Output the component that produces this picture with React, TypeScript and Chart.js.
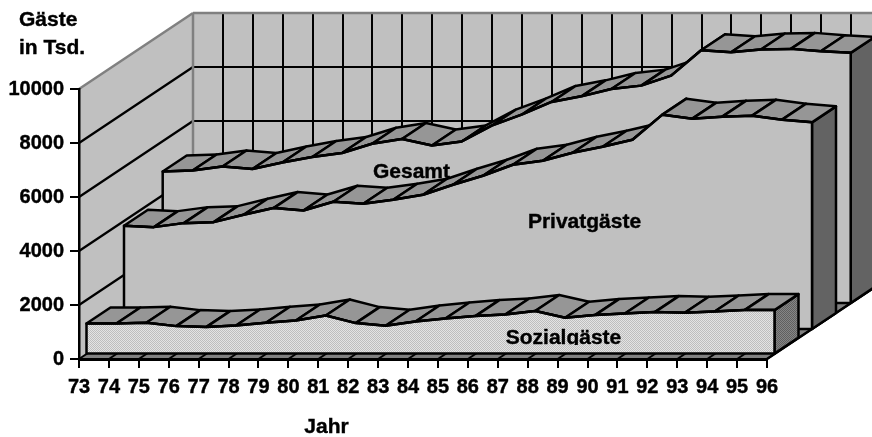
import React, { useEffect, useRef } from "react";
import { Chart, registerables } from "chart.js";

Chart.register(...registerables);

const years = ["73","74","75","76","77","78","79","80","81","82","83","84","85","86","87","88","89","90","91","92","93","94","95","96"];
const sozial = [1113,1113,1138,1014,977,1039,1138,1224,1410,1126,1026,1187,1298,1385,1447,1571,1323,1422,1484,1533,1508,1558,1607,1607];
const privat = [3821,3773,3921,3958,4229,4478,4389,4712,4638,4786,4971,5342,5676,6084,6233,6530,6752,7012,7939,7791,7865,7902,7754,7654];
const gesamt = [4871,4908,5057,4960,5205,5405,5554,5899,6073,5832,5984,6567,6975,7446,7654,7928,8051,8422,9360,9286,9386,9412,9323,9264];
const seriesNames = ["Sozialgäste", "Privatgäste", "Gesamt"];
const yTicks = [0, 2000, 4000, 6000, 8000, 10000];

const FONT = 'bold 21px "Liberation Sans", Arial, sans-serif';
const DEPTH_X = 114;
const DEPTH_Y = 76;
const LAYERS = [
  { dx: 7.5, dy: -5.5 },
  { dx: 45, dy: -30 },
  { dx: 83.7, dy: -56 },
];
const BAND_X = 24;
const BAND_Y = 16;
const LW = 2.5;

function dither(a: string, b: string) {
  const c = document.createElement("canvas");
  c.width = 2;
  c.height = 2;
  const x = c.getContext("2d")!;
  x.fillStyle = a;
  x.fillRect(0, 0, 2, 2);
  x.fillStyle = b;
  x.fillRect(0, 0, 1, 1);
  x.fillRect(1, 1, 1, 1);
  return x.createPattern(c, "repeat")!;
}

function poly(ctx: CanvasRenderingContext2D, pts: number[][], fill?: any, stroke?: string, lw = LW) {
  ctx.beginPath();
  pts.forEach((p, i) => (i ? ctx.lineTo(p[0], p[1]) : ctx.moveTo(p[0], p[1])));
  ctx.closePath();
  if (fill) {
    ctx.fillStyle = fill;
    ctx.fill();
  }
  if (stroke) {
    ctx.strokeStyle = stroke;
    ctx.lineWidth = lw;
    ctx.stroke();
  }
}

function seg(ctx: CanvasRenderingContext2D, x1: number, y1: number, x2: number, y2: number, color = "#000", lw = 2) {
  ctx.beginPath();
  ctx.moveTo(x1, y1);
  ctx.lineTo(x2, y2);
  ctx.strokeStyle = color;
  ctx.lineWidth = lw;
  ctx.stroke();
}

function label(ctx: CanvasRenderingContext2D, text: string, x: number, y: number, align: CanvasTextAlign = "center") {
  ctx.font = FONT;
  ctx.fillStyle = "#000";
  ctx.strokeStyle = "#000";
  ctx.lineWidth = 0.4;
  ctx.textAlign = align;
  ctx.textBaseline = "alphabetic";
  ctx.fillText(text, x, y);
  ctx.strokeText(text, x, y);
}

const scene3d = {
  id: "scene3d",
  beforeDraw(chart: any) {
    const { ctx, scales } = chart;
    const xs = scales.x;
    const ys = scales.y;
    const left = xs.left;
    const right = xs.right;
    const y0 = ys.getPixelForValue(0);
    const yMax = ys.getPixelForValue(10000);
    ctx.save();
    ctx.lineJoin = "round";
    // back wall
    poly(ctx, [[left + DEPTH_X, yMax - DEPTH_Y], [right + DEPTH_X, yMax - DEPTH_Y], [right + DEPTH_X, y0 - DEPTH_Y], [left + DEPTH_X, y0 - DEPTH_Y]], "#C0C0C0");
    // side wall
    poly(ctx, [[left, yMax], [left + DEPTH_X, yMax - DEPTH_Y], [left + DEPTH_X, y0 - DEPTH_Y], [left, y0]], "#C0C0C0");
    // grid lines on the walls
    years.forEach((_, i) => {
      if (i === 0) return;
      const x = Math.round(xs.getPixelForTick(i) + DEPTH_X);
      seg(ctx, x, yMax - DEPTH_Y, x, y0 - DEPTH_Y);
    });
    yTicks.forEach((v) => {
      if (v === 10000 || v === 0) return;
      const y = ys.getPixelForValue(v);
      seg(ctx, left, y, left + DEPTH_X, y - DEPTH_Y, "#000", 2.2);
      const yy = Math.round(y - DEPTH_Y);
      seg(ctx, left + DEPTH_X, yy, right + DEPTH_X, yy);
    });
    // wall edges
    seg(ctx, left, yMax, left + DEPTH_X, yMax - DEPTH_Y, "#808080", 2.5);
    seg(ctx, left + DEPTH_X, yMax - DEPTH_Y, right + DEPTH_X, yMax - DEPTH_Y, "#808080", 2.5);
    seg(ctx, left + DEPTH_X, yMax - DEPTH_Y, left + DEPTH_X, y0 - DEPTH_Y, "#808080", 2.5);
    // floor
    poly(ctx, [[left, y0], [right, y0], [right + DEPTH_X, y0 - DEPTH_Y], [left + DEPTH_X, y0 - DEPTH_Y]], "#808080");
    years.forEach((_, i) => {
      const x = xs.getPixelForTick(i);
      seg(ctx, x, y0, x + DEPTH_X, y0 - DEPTH_Y);
    });
    seg(ctx, right, y0, right + DEPTH_X, y0 - DEPTH_Y, "#000", 2.5);
    ctx.restore();
  },
  beforeDatasetDraw(chart: any, args: any) {
    const { ctx, scales } = chart;
    const idx = args.index;
    const { dx, dy } = LAYERS[idx];
    const pts = args.meta.data.map((p: any) => [p.x + dx, p.y + dy]);
    const base = scales.y.getPixelForValue(0) + dy;
    const first = pts[0];
    const last = pts[pts.length - 1];
    const faceFill = idx === 0 ? dither("#E4E4E4", "#BEBEBE") : "#C0C0C0";
    const sideFill = idx === 0 ? dither("#868686", "#606060") : "#636363";
    ctx.save();
    ctx.lineJoin = "round";
    // right side
    poly(ctx, [[last[0], last[1]], [last[0] + BAND_X, last[1] - BAND_Y], [last[0] + BAND_X, base - BAND_Y], [last[0], base]], sideFill, "#000");
    // top band, one quad per year
    for (let i = 0; i < pts.length - 1; i++) {
      const a = pts[i];
      const b = pts[i + 1];
      poly(ctx, [a, b, [b[0] + BAND_X, b[1] - BAND_Y], [a[0] + BAND_X, a[1] - BAND_Y]], "#969696", "#000");
    }
    // front face
    poly(ctx, [...pts, [last[0], base], [first[0], base]], faceFill, "#000");
    ctx.translate(dx, dy);
  },
  afterDatasetDraw(chart: any, args: any) {
    const { ctx } = chart;
    ctx.restore();
    const idx = args.index;
    if (idx === 2) label(ctx, seriesNames[2], 411.5, 178);
    if (idx === 1) label(ctx, seriesNames[1], 584.5, 228);
    if (idx === 0) {
      ctx.save();
      ctx.beginPath();
      ctx.rect(0, 300, 872, 45);
      ctx.clip();
      label(ctx, seriesNames[0], 563.5, 344);
      ctx.restore();
    }
  },
  afterDraw(chart: any) {
    const { ctx } = chart;
    label(ctx, "Gäste", 19, 26, "left");
    label(ctx, "in Tsd.", 19, 54, "left");
    label(ctx, "Jahr", 326.5, 433);
  },
};

export default function App() {
  const ref = useRef<HTMLCanvasElement>(null);
  useEffect(() => {
    const line = { borderColor: "#000", borderWidth: LW, pointRadius: 0, fill: false, tension: 0, clip: false as any, borderJoinStyle: "round" as const };
    const tickFont = { family: '"Liberation Sans", Arial, sans-serif', size: 20, weight: "bold" as const };
    const chart = new Chart(ref.current!, {
      type: "line",
      data: {
        labels: years,
        datasets: [
          { label: seriesNames[0], data: sozial, ...line },
          { label: seriesNames[1], data: privat, ...line },
          { label: seriesNames[2], data: gesamt, ...line },
        ],
      },
      options: {
        animation: false,
        responsive: false,
        events: [],
        layout: { padding: { left: 0, right: 105, top: 89, bottom: 0 } },
        plugins: { legend: { display: false }, tooltip: { enabled: false }, title: { display: false } },
        scales: {
          x: {
            type: "category",
            offset: false,
            afterFit: (s: any) => { s.height = 78; },
            grid: { drawOnChartArea: false, drawTicks: true, tickLength: 9, tickColor: "#000", tickWidth: 2, color: "#000", lineWidth: 2 },
            border: { color: "#000", width: 3 },
            ticks: { color: "#000", font: tickFont, maxRotation: 0, minRotation: 0, autoSkip: false, padding: 7, textStrokeColor: "#000", textStrokeWidth: 0.4 },
          },
          y: {
            type: "linear",
            min: 0,
            max: 10000,
            afterFit: (s: any) => { s.width = 79; },
            afterBuildTicks: (s: any) => { s.ticks = yTicks.map((value) => ({ value })); },
            grid: { drawOnChartArea: false, drawTicks: true, tickLength: 9, tickColor: "#000", tickWidth: 2, color: "#000", lineWidth: 2 },
            border: { color: "#000", width: 2.5 },
            ticks: { color: "#000", font: tickFont, padding: 6, textStrokeColor: "#000", textStrokeWidth: 0.4, callback: (v: any) => String(v) },
          },
        },
      },
      plugins: [scene3d],
    } as any);
    return () => chart.destroy();
  }, []);
  return (
    <div style={{ position: "absolute", left: 0, top: 0, width: 872, height: 437, overflow: "hidden", background: "#fff" }}>
      <canvas ref={ref} width={872} height={437} style={{ display: "block" }} />
    </div>
  );
}
